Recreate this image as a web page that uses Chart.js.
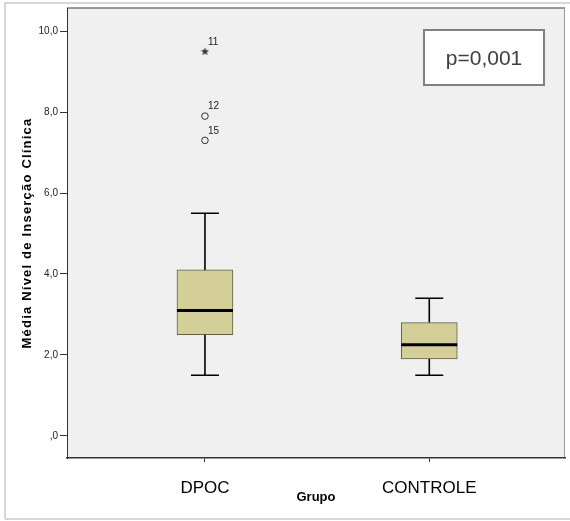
<!DOCTYPE html>
<html>
<head>
<meta charset="utf-8">
<script src="https://cdn.jsdelivr.net/npm/chart.js@4.4.1/dist/chart.umd.min.js"></script>
<style>
    body { margin: 0; background: #ffffff; }
    canvas { display: block; }
</style>
</head>
<body>
<canvas id="chart1" width="570" height="521"></canvas>
<script>
const grupos = ['DPOC', 'CONTROLE'];
const posicoes = [1, 2];
const minimos = [1.5, 1.5];
const quartil1 = [2.5, 1.9];
const medianas = [3.1, 2.25];
const quartil3 = [4.1, 2.8];
const maximos = [5.5, 3.4];

const outlierGrupo = [1, 1, 1];
const outlierValores = [9.5, 7.9, 7.3];
const outlierCasos = ['11', '12', '15'];
const outlierTipo = ['star', 'circle', 'circle'];

const yTicks = [0, 2, 4, 6, 8, 10];
const tituloY = 'Média Nível de Inserção Clínica';
const textoP = 'p=0,001';

// estrela cheia para o outlier extremo
const estrela = document.createElement('canvas');
estrela.width = 9;
estrela.height = 9;
const ec = estrela.getContext('2d');
ec.fillStyle = '#333333';
ec.beginPath();
for (let k = 0; k < 10; k++) {
    const r = k % 2 === 0 ? 4.4 : 1.8;
    const a = -Math.PI / 2 + k * Math.PI / 5;
    const px = 4.5 + r * Math.cos(a);
    const py = 4.8 + r * Math.sin(a);
    if (k === 0) ec.moveTo(px, py); else ec.lineTo(px, py);
}
ec.closePath();
ec.fill();

const fundo = {
    id: 'fundo',
    beforeDraw(chart) {
        const c = chart.ctx;
        const a = chart.chartArea;
        c.save();
        c.fillStyle = '#ffffff';
        c.fillRect(0, 0, chart.width, chart.height);
        c.strokeStyle = '#d6d6d6';
        c.lineWidth = 2;
        c.beginPath();
        c.moveTo(5, 519);
        c.lineTo(5, 3);
        c.lineTo(570, 3);
        c.moveTo(5, 519);
        c.lineTo(570, 519);
        c.stroke();
        c.fillStyle = '#f0f0f0';
        c.fillRect(a.left, a.top, a.right - a.left, a.bottom - a.top);
        c.strokeStyle = '#777777';
        c.lineWidth = 1.5;
        c.beginPath();
        c.moveTo(a.left, a.top);
        c.lineTo(a.right, a.top);
        c.stroke();
        c.strokeStyle = '#999999';
        c.lineWidth = 1;
        c.beginPath();
        c.moveTo(a.right - 0.5, a.top);
        c.lineTo(a.right - 0.5, a.bottom);
        c.stroke();
        c.restore();
    }
};

const bigodes = {
    id: 'bigodes',
    afterDatasetsDraw(chart) {
        const c = chart.ctx;
        const xs = chart.scales.x;
        const ys = chart.scales.y;
        c.save();
        posicoes.forEach((p, i) => {
            const x = xs.getPixelForValue(p);
            c.strokeStyle = '#000000';
            c.lineWidth = 1.6;
            c.beginPath();
            c.moveTo(x, ys.getPixelForValue(quartil3[i]));
            c.lineTo(x, ys.getPixelForValue(maximos[i]));
            c.moveTo(x, ys.getPixelForValue(quartil1[i]));
            c.lineTo(x, ys.getPixelForValue(minimos[i]));
            c.moveTo(x - 14, ys.getPixelForValue(maximos[i]));
            c.lineTo(x + 14, ys.getPixelForValue(maximos[i]));
            c.moveTo(x - 14, ys.getPixelForValue(minimos[i]));
            c.lineTo(x + 14, ys.getPixelForValue(minimos[i]));
            c.stroke();
            c.lineWidth = 3;
            c.beginPath();
            c.moveTo(x - 28, ys.getPixelForValue(medianas[i]));
            c.lineTo(x + 28, ys.getPixelForValue(medianas[i]));
            c.stroke();
        });
        c.fillStyle = '#222222';
        c.font = '10px "Liberation Sans", Arial, sans-serif';
        c.textAlign = 'left';
        c.textBaseline = 'middle';
        outlierValores.forEach((v, i) => {
            const x = xs.getPixelForValue(outlierGrupo[i]);
            const y = ys.getPixelForValue(v);
            c.fillText(outlierCasos[i], x + 3, y - 9.5);
        });
        c.restore();
    },
    afterDraw(chart) {
        const c = chart.ctx;
        const a = chart.chartArea;
        c.save();
        // caixa do valor p
        c.fillStyle = '#ffffff';
        c.fillRect(a.right - 141, 30, 120, 55);
        c.strokeStyle = '#808080';
        c.lineWidth = 2;
        c.strokeRect(a.right - 141, 30, 120, 55);
        c.fillStyle = '#404040';
        c.font = '21px "Liberation Sans", Arial, sans-serif';
        c.textAlign = 'center';
        c.textBaseline = 'middle';
        c.fillText(textoP, a.right - 81, 59);
        // titulo do eixo y, com espaçamento entre letras
        c.translate(27, (a.top + a.bottom) / 2);
        c.rotate(-Math.PI / 2);
        c.letterSpacing = '1.2px';
        c.fillStyle = '#000000';
        c.font = 'bold 13px "Liberation Sans", Arial, sans-serif';
        c.fillText(tituloY, 0, 0);
        c.restore();
    }
};

var ctx1 = document.getElementById('chart1').getContext('2d');
var chart1 = new Chart(ctx1, {
    type: 'bar',
    data: {
        datasets: [{
            label: 'Caixa',
            data: posicoes.map((p, i) => ({ x: p, y: [quartil1[i], quartil3[i]] })),
            backgroundColor: '#d4cf99',
            borderColor: '#5f5f4a',
            borderWidth: 1,
            borderSkipped: false,
            barThickness: 56
        }, {
            type: 'scatter',
            label: 'Outliers',
            data: outlierValores.map((v, i) => ({ x: outlierGrupo[i], y: v })),
            pointStyle: outlierTipo.map(t => t === 'star' ? estrela : 'circle'),
            radius: 3.3,
            borderWidth: 1,
            borderColor: '#333333',
            backgroundColor: 'rgba(0,0,0,0)'
        }]
    },
    options: {
        responsive: false,
        animation: false,
        layout: { padding: { top: 7.8, right: 1, left: 0, bottom: 0 } },
        plugins: {
            legend: { display: false },
            tooltip: { enabled: false }
        },
        scales: {
            x: {
                type: 'linear',
                min: 0.385,
                max: 2.605,
                offset: false,
                afterFit: s => { s.height = 63; },
                afterBuildTicks: s => { s.ticks = posicoes.map(p => ({ value: p })); },
                ticks: {
                    callback: v => grupos[posicoes.indexOf(v)],
                    font: { family: '"Liberation Sans", Arial, sans-serif', size: 17 },
                    color: '#000000',
                    padding: 16,
                    maxRotation: 0
                },
                grid: { display: true, drawOnChartArea: false, offset: false, tickLength: 4, color: '#333333' },
                border: { display: true, color: '#333333', width: 1.5 },
                title: {
                    display: true,
                    text: 'Grupo',
                    font: { family: '"Liberation Sans", Arial, sans-serif', size: 13, weight: 'bold' },
                    color: '#000000',
                    padding: { top: 0, bottom: 16 }
                }
            },
            y: {
                min: -0.545,
                max: 10.57,
                afterFit: s => { s.width = 67; },
                afterBuildTicks: s => { s.ticks = yTicks.map(v => ({ value: v })); },
                ticks: {
                    callback: v => v === 0 ? ',0' : v.toFixed(1).replace('.', ','),
                    font: { family: '"Liberation Sans", Arial, sans-serif', size: 10 },
                    color: '#222222',
                    padding: 2
                },
                grid: { display: true, drawOnChartArea: false, tickLength: 7, color: '#333333' },
                border: { display: true, color: '#333333', width: 1 }
            }
        }
    },
    plugins: [fundo, bigodes]
});
</script>
</body>
</html>
